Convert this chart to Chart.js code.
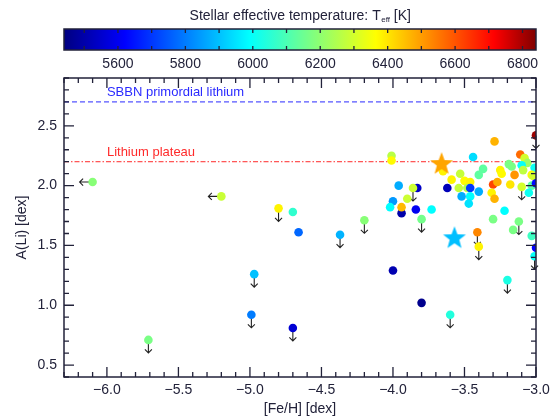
<!DOCTYPE html>
<html>
<head>
<meta charset="utf-8">
<script src="https://cdn.jsdelivr.net/npm/chart.js@4.4.1/dist/chart.umd.min.js"></script>
<style>
  body { margin: 0; background: #fff; }
  canvas { display: block; }
</style>
</head>
<body>
<canvas id="lithium" width="560" height="418"></canvas>
<script>

// stars: [Fe/H], A(Li), Teff, and limit flag ('' / 'down' = upper limit on A(Li) / 'left' = upper limit on [Fe/H])
const feh = [
    -6.10, -5.20, -4.80, -4.70, -4.66, -4.37, -4.20, -4.97, -4.99, -4.70, -5.71,
    -4.01, -4.01, -3.96, -3.83, -3.86, -3.90, -4.00, -4.02, -3.94, -3.94, -3.84, -3.73, -3.80,
    -4.00, -3.80, -3.60,
    -3.65, -3.59, -3.53, -3.50, -3.62, -3.54, -3.52, -3.44, -3.29, -3.00, -3.11, -3.08, -3.06,
    -3.10, -3.37, -3.40, -3.19, -3.17, -3.01, -3.25, -3.24, -3.15, -3.09, -3.03, -3.02, -3.46,
    -3.30, -3.27, -3.18, -3.10, -3.03, -3.00, -3.48, -3.46, -3.40, -3.31, -3.29, -3.46, -3.05,
    -3.47, -3.22, -3.30, -3.12, -3.16, -3.03, -3.41, -3.40, -3.00, -3.01, -3.20
];
const aLi = [
    2.03, 1.91, 1.81, 1.78, 1.61, 1.59, 1.71, 1.26, 0.92, 0.81, 0.71,
    2.25, 2.21, 2.00, 1.98, 1.98, 1.89, 1.87, 1.82, 1.77, 1.82, 1.80, 1.80, 1.72,
    1.29, 1.02, 0.92,
    2.12, 2.05, 2.10, 2.04, 1.98, 1.98, 1.91, 2.24, 2.37, 2.42, 2.26, 2.23, 2.19,
    2.17, 2.14, 2.09, 2.18, 2.16, 2.15, 2.13, 2.10, 2.09, 2.13, 2.09, 2.08, 2.03,
    2.01, 2.03, 2.01, 1.99, 2.00, 2.02, 1.98, 1.98, 1.95, 1.94, 1.89, 1.91, 1.94,
    1.85, 1.79, 1.72, 1.70, 1.63, 1.58, 1.61, 1.49, 1.48, 1.41, 1.21
];
const teff = [
    6190, 6285, 6380, 6060, 5770, 5880, 6190, 5900, 5800, 5560, 6170,
    6260, 6370, 5870, 5540, 6290, 6290, 5840, 5990, 5500, 6460, 5600, 5990, 6160,
    5510, 5460, 6040,
    6380, 6380, 6280, 6370, 5520, 6280, 5870, 5940, 6470, 6810, 6570, 6300, 6220,
    6000, 6130, 6130, 6170, 6170, 6010, 6380, 6370, 6510, 6270, 6370, 6300, 6380,
    6620, 6480, 6400, 6300, 6120, 5630, 6250, 5700, 5870, 6380, 6470, 5990, 6010,
    5950, 5990, 6170, 6170, 6170, 6080, 6530, 6380, 5620, 6000, 6030
];
const limit = [
    'left', 'left', 'down', '', '', 'down', 'down', 'down', 'down', 'down', 'down',
    '', '', '', '', 'down', '', '', '', '', '', '', '', 'down',
    '', '', 'down',
    '', '', '', '', '', '', '', '', '', 'down', '', '', '',
    '', '', '', '', '', '', '', '', '', '', '', '', '',
    '', '', '', 'down', '', '', '', '', '', '', '', '', '',
    '', '', '', 'down', '', '', 'down', 'down', '', 'down', 'down'
];

// the two big stars
const starFeh = [-3.66, -3.57];
const starALi = [2.18, 1.56];

// reference levels
const sbbnLi = 2.7;
const plateauLi = 2.2;

const fehRange = [-6.3, -3.0];
const aLiRange = [0.4, 2.9];
const teffRange = [5440, 6840];
const fehTicks = [-6.0, -5.5, -5.0, -4.5, -4.0, -3.5, -3.0];
const aLiTicks = [0.5, 1.0, 1.5, 2.0, 2.5];
const teffTicks = [5600, 5800, 6000, 6200, 6400, 6600, 6800];

// colour table (dark blue -> blue -> cyan -> yellow -> red -> dark red)
const cmapTeff = [5440, 5620, 5990, 6365, 6715, 6840];
const cmapRGB = [[0, 0, 128], [0, 0, 255], [0, 255, 255], [255, 255, 0], [255, 0, 0], [128, 0, 0]];

const FONT = '"Liberation Sans", Arial, sans-serif';
const INK = '#22223a';

function rgb(c) {
    return `rgb(${Math.round(c[0])},${Math.round(c[1])},${Math.round(c[2])})`;
}

function tempColor(t) {
    if (t <= cmapTeff[0]) return rgb(cmapRGB[0]);
    for (let i = 1; i < cmapTeff.length; i++) {
        if (t <= cmapTeff[i]) {
            const f = (t - cmapTeff[i - 1]) / (cmapTeff[i] - cmapTeff[i - 1]);
            const a = cmapRGB[i - 1], b = cmapRGB[i];
            return rgb([a[0] + f * (b[0] - a[0]), a[1] + f * (b[1] - a[1]), a[2] + f * (b[2] - a[2])]);
        }
    }
    return rgb(cmapRGB[cmapRGB.length - 1]);
}

function starImage(color, r) {
    const c = document.createElement('canvas');
    c.width = c.height = 2 * r + 2;
    const g = c.getContext('2d');
    g.fillStyle = color;
    g.beginPath();
    for (let k = 0; k < 10; k++) {
        const rad = k % 2 ? r * 0.42 : r;
        const a = -Math.PI / 2 + k * Math.PI / 5;
        g.lineTo(r + 1 + rad * Math.cos(a), r + 1 + rad * Math.sin(a));
    }
    g.closePath();
    g.fill();
    return c;
}

function minus(v) {
    return (v < 0 ? '\u2212' : '') + Math.abs(v).toFixed(1);
}

// upper-limit arrows, under the points
const limitArrows = {
    id: 'limitArrows',
    beforeDatasetsDraw(chart) {
        const { ctx, scales: { x, y } } = chart;
        ctx.save();
        ctx.strokeStyle = '#222';
        ctx.lineWidth = 1.1;
        feh.forEach((f, i) => {
            if (!limit[i]) return;
            const px = x.getPixelForValue(f);
            const py = y.getPixelForValue(aLi[i]);
            ctx.beginPath();
            if (limit[i] === 'down') {
                ctx.moveTo(px, py);
                ctx.lineTo(px, py + 13);
                ctx.moveTo(px - 3.5, py + 9.5);
                ctx.lineTo(px, py + 13);
                ctx.lineTo(px + 3.5, py + 9.5);
            } else {
                ctx.moveTo(px, py);
                ctx.lineTo(px - 13, py);
                ctx.moveTo(px - 9.5, py - 3.5);
                ctx.lineTo(px - 13, py);
                ctx.lineTo(px - 9.5, py + 3.5);
            }
            ctx.stroke();
        });
        ctx.restore();
    }
};

// box with inward ticks on all four sides
const frame = {
    id: 'frame',
    afterDatasetsDraw(chart) {
        const { ctx, chartArea: a, scales: { x, y } } = chart;
        ctx.save();
        ctx.strokeStyle = INK;
        ctx.lineWidth = 1.5;
        ctx.strokeRect(a.left, a.top, a.right - a.left, a.bottom - a.top);
        ctx.lineWidth = 1.3;
        ctx.beginPath();
        for (let i = Math.ceil(x.min * 10 - 1e-6); i <= Math.floor(x.max * 10 + 1e-6); i++) {
            const px = x.getPixelForValue(i / 10);
            const len = i % 5 === 0 ? 10 : 5;
            ctx.moveTo(px, a.bottom); ctx.lineTo(px, a.bottom - len);
            ctx.moveTo(px, a.top); ctx.lineTo(px, a.top + len);
        }
        for (let i = Math.ceil(y.min * 10 - 1e-6); i <= Math.floor(y.max * 10 + 1e-6); i++) {
            const py = y.getPixelForValue(i / 10);
            const len = i % 5 === 0 ? 10 : 5;
            ctx.moveTo(a.left, py); ctx.lineTo(a.left + len, py);
            ctx.moveTo(a.right, py); ctx.lineTo(a.right - len, py);
        }
        ctx.stroke();
        ctx.restore();
    }
};

// names of the two reference levels
const levelLabels = {
    id: 'levelLabels',
    afterDatasetsDraw(chart) {
        const { ctx, scales: { x, y } } = chart;
        ctx.save();
        ctx.font = '13px ' + FONT;
        ctx.textAlign = 'left';
        ctx.textBaseline = 'middle';
        ctx.fillStyle = '#2a2aff';
        ctx.fillText('SBBN primordial lithium', x.getPixelForValue(-6.0), y.getPixelForValue(sbbnLi) - 9);
        ctx.fillStyle = '#ff2a2a';
        ctx.fillText('Lithium plateau', x.getPixelForValue(-6.0), y.getPixelForValue(plateauLi) - 9);
        ctx.restore();
    }
};

// Teff colour bar above the plot
const colorbar = {
    id: 'colorbar',
    afterDraw(chart) {
        const { ctx } = chart;
        const s = chart.scales.teff;
        const top = 29, h = 21;
        ctx.save();
        const grad = ctx.createLinearGradient(s.left, 0, s.right, 0);
        cmapTeff.forEach((t, i) => {
            grad.addColorStop((t - s.min) / (s.max - s.min), rgb(cmapRGB[i]));
        });
        ctx.fillStyle = grad;
        ctx.fillRect(s.left, top, s.right - s.left, h);

        ctx.strokeStyle = INK;
        ctx.lineWidth = 1.3;
        ctx.beginPath();
        for (let t = Math.ceil(s.min / 100) * 100; t <= s.max; t += 100) {
            const px = s.getPixelForValue(t);
            ctx.moveTo(px, top); ctx.lineTo(px, top + 4);
            ctx.moveTo(px, top + h); ctx.lineTo(px, top + h - 4);
        }
        ctx.stroke();
        ctx.lineWidth = 1.5;
        ctx.strokeRect(s.left, top, s.right - s.left, h);

        ctx.fillStyle = INK;
        ctx.font = '14px ' + FONT;
        ctx.textAlign = 'center';
        ctx.textBaseline = 'middle';
        teffTicks.forEach(t => ctx.fillText(String(t), s.getPixelForValue(t), top + h + 14));

        // title with subscript
        const big = '14px ' + FONT, small = '8px ' + FONT;
        const p1 = 'Stellar effective temperature: T', p2 = 'eff', p3 = ' [K]';
        ctx.font = big; const w1 = ctx.measureText(p1).width, w3 = ctx.measureText(p3).width;
        ctx.font = small; const w2 = ctx.measureText(p2).width;
        let x0 = (s.left + s.right) / 2 - (w1 + w2 + w3) / 2;
        const yt = 16;
        ctx.textAlign = 'left';
        ctx.font = big; ctx.fillText(p1, x0, yt); x0 += w1;
        ctx.font = small; ctx.fillText(p2, x0 + 0.5, yt + 4); x0 += w2 + 0.5;
        ctx.font = big; ctx.fillText(p3, x0, yt);
        ctx.restore();
    }
};

const stars = feh.map((f, i) => ({ x: f, y: aLi[i] }));

new Chart(document.querySelector('#lithium'), {
    type: 'scatter',
    data: {
        datasets: [
            {
                type: 'line',
                data: [{ x: fehRange[0], y: sbbnLi }, { x: fehRange[1], y: sbbnLi }],
                borderColor: '#2a2aff',
                borderWidth: 1,
                borderDash: [5, 3],
                pointRadius: 0,
                order: 3
            },
            {
                type: 'line',
                data: [{ x: fehRange[0], y: plateauLi }, { x: fehRange[1], y: plateauLi }],
                borderColor: '#ff2a2a',
                borderWidth: 1,
                borderDash: [5, 2, 1.5, 2],
                pointRadius: 0,
                order: 3
            },
            {
                data: stars,
                backgroundColor: teff.map(tempColor),
                borderWidth: 0,
                pointRadius: 4.3,
                order: 1
            },
            {
                data: starFeh.map((f, i) => ({ x: f, y: starALi[i] })),
                pointStyle: [starImage('#ffa500', 12), starImage('#00bfff', 12)],
                pointRadius: 12,
                order: 0
            }
        ]
    },
    options: {
        responsive: false,
        animation: false,
        events: [],
        layout: { padding: { top: 78, right: 24, left: 0, bottom: 0 } },
        plugins: {
            legend: { display: false },
            tooltip: { enabled: false }
        },
        scales: {
            x: {
                type: 'linear',
                min: fehRange[0],
                max: fehRange[1],
                grid: { display: false, drawTicks: false },
                border: { display: false },
                afterBuildTicks(scale) { scale.ticks = fehTicks.map(v => ({ value: v })); },
                ticks: {
                    padding: 5,
                    color: INK,
                    font: { family: FONT, size: 14 },
                    maxRotation: 0,
                    autoSkip: false,
                    callback: v => minus(v)
                },
                title: {
                    display: true,
                    text: '[Fe/H] [dex]',
                    color: INK,
                    font: { family: FONT, size: 14 },
                    padding: 0
                },
                afterFit(scale) { scale.height = 41; }
            },
            y: {
                type: 'linear',
                min: aLiRange[0],
                max: aLiRange[1],
                grid: { display: false, drawTicks: false },
                border: { display: false },
                afterBuildTicks(scale) { scale.ticks = aLiTicks.map(v => ({ value: v })); },
                ticks: {
                    padding: 7,
                    color: INK,
                    font: { family: FONT, size: 14 },
                    autoSkip: false,
                    callback: v => v.toFixed(1)
                },
                title: {
                    display: true,
                    text: 'A(Li) [dex]',
                    color: INK,
                    font: { family: FONT, size: 14 },
                    padding: { top: 14, bottom: 0 }
                },
                afterFit(scale) { scale.width = 64; }
            },
            teff: {
                type: 'linear',
                axis: 'x',
                display: false,
                min: teffRange[0],
                max: teffRange[1]
            }
        }
    },
    plugins: [limitArrows, frame, levelLabels, colorbar]
});

</script>
</body>
</html>
